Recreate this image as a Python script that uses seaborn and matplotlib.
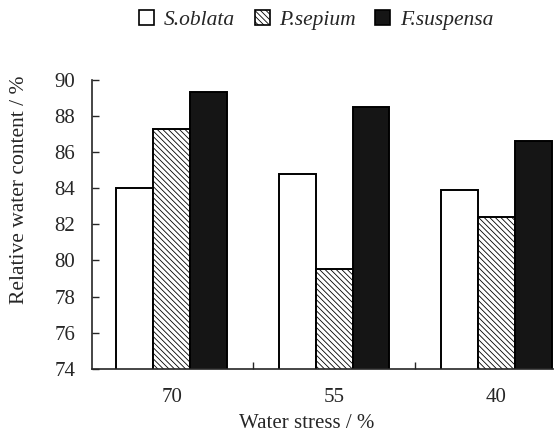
import matplotlib
matplotlib.use("Agg")
import matplotlib.pyplot as plt
import seaborn as sns
import pandas as pd
from matplotlib.patches import Patch

# Data
stress_levels = ["70", "55", "40"]
species = ["S.oblata", "P.sepium", "F.suspensa"]
s_oblata = [84.0, 84.8, 83.9]
p_sepium = [87.3, 79.5, 82.4]
f_suspensa = [89.3, 88.5, 86.6]

face_colors = ["white", "white", "#151515"]
hatches = ["", "\\" * 6, ""]

df = pd.DataFrame({
    "stress": stress_levels * 3,
    "species": [s for s in species for _ in stress_levels],
    "rwc": s_oblata + p_sepium + f_suspensa,
})

sns.set_style("ticks")
plt.rcParams["font.family"] = ["Liberation Serif", "DejaVu Serif"]
plt.rcParams["hatch.linewidth"] = 0.6
plt.rcParams["hatch.color"] = "#3a3a3a"

fig = plt.figure(figsize=(5.55, 4.36), dpi=100)
ax = fig.add_axes([0.166, 0.154, 0.831, 0.663])

sns.barplot(data=df, x="stress", y="rwc", hue="species", order=stress_levels,
            hue_order=species, palette=face_colors, width=0.68,
            edgecolor="black", linewidth=1.4, saturation=1, ax=ax)

for container, hatch in zip(ax.containers, hatches):
    for bar in container:
        bar.set_hatch(hatch)

ax.get_legend().remove()
ax.set_ylim(74, 90)
ax.set_yticks(range(74, 91, 2))
ax.set_xlim(-0.49, 2.35)

ax.tick_params(axis="y", direction="in", length=5, width=1, labelsize=15, pad=12)
ax.tick_params(axis="x", which="major", length=0, labelsize=15, pad=14)
ax.set_xticks([0.5, 1.5], minor=True)
ax.tick_params(axis="x", which="minor", direction="in", length=5, width=1)

for side in ["top", "right"]:
    ax.spines[side].set_visible(False)
for side in ["left", "bottom"]:
    ax.spines[side].set_linewidth(1.2)

ax.set_xlabel("Water stress / %", fontsize=15)
ax.xaxis.set_label_coords(0.466, -0.155)
ax.set_ylabel("Relative water content / %", fontsize=15.5)
ax.yaxis.set_label_coords(-0.137, 0.62)

handles = [Patch(facecolor=c, edgecolor="black", hatch=h, linewidth=1.2)
           for c, h in zip(face_colors, hatches)]
fig.legend(handles, species, loc="center", bbox_to_anchor=(0.57, 0.955), ncol=3,
           frameon=False, prop={"style": "italic", "size": 15.5},
           handlelength=0.7, handleheight=0.7, handletextpad=0.45, columnspacing=0.9)

fig.savefig("out.png", dpi=100)
